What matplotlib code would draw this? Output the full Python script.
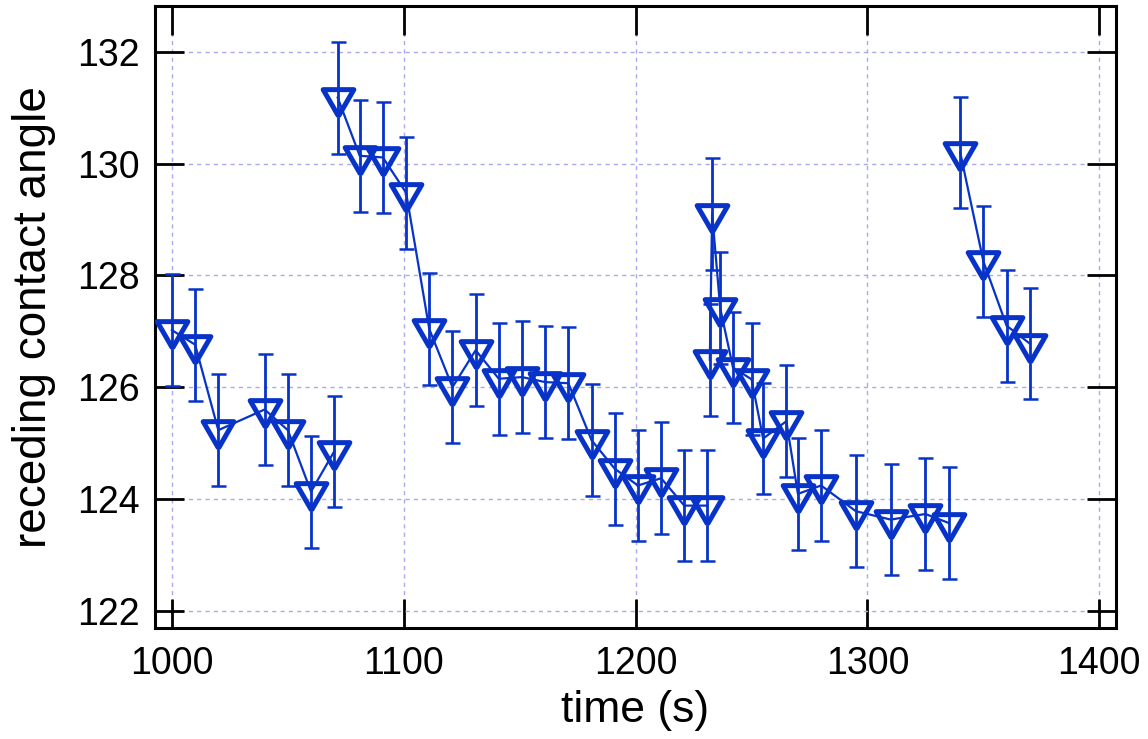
import matplotlib
matplotlib.use("Agg")
import matplotlib.pyplot as plt
import numpy as np

# ---- data ----
time_s = [1000, 1010, 1020, 1040, 1050, 1060, 1070,
          1071.5, 1081, 1091, 1101, 1111, 1121, 1131, 1141, 1151, 1161, 1171,
          1181, 1191, 1201, 1211, 1221, 1231,
          1232, 1233, 1236.5, 1242, 1250, 1255, 1265, 1270, 1280, 1295, 1310,
          1325, 1335,
          1340, 1350, 1360, 1370]
angle = [127.02, 126.76, 125.23, 125.60, 125.23, 124.13, 124.85,
         131.18, 130.14, 130.11, 129.48, 127.04, 126.00, 126.66, 126.15, 126.18,
         126.09, 126.07, 125.05, 124.54, 124.24, 124.37, 123.88, 123.88,
         126.49, 129.10, 127.41, 126.35, 126.14, 125.08, 125.39, 124.09, 124.24,
         123.78, 123.63, 123.73, 123.57,
         130.20, 128.25, 127.10, 126.78]
angle_err = [1.0] * len(angle)
run_id = [1] * 7 + [2] * 17 + [3] * 13 + [4] * 4

x_ticks = [1000, 1100, 1200, 1300, 1400]
y_ticks = [122, 124, 126, 128, 130, 132]
x_label = "time (s)"
y_label = "receding contact angle"

# ---- style ----
plt.rcParams['font.family'] = ['Liberation Sans', 'DejaVu Sans']
blue = '#0733c8'

fig = plt.figure(figsize=(11.48, 7.39), dpi=100)
ax = fig.add_axes([155 / 1148, 1 - 628 / 739, (1116 - 155) / 1148, (628 - 6) / 739])

tri = [(0, -1), (-0.866, 0.5), (0.866, 0.5), (0, -1)]

t_arr = np.array(time_s)
a_arr = np.array(angle)
e_arr = np.array(angle_err)
r_arr = np.array(run_id)
for r in sorted(set(run_id)):
    m = r_arr == r
    ax.errorbar(t_arr[m], a_arr[m], yerr=e_arr[m], fmt='none', ecolor=blue,
                elinewidth=2.0, capsize=5.4, capthick=1.8, zorder=2)
    ax.plot(t_arr[m], a_arr[m], '-', color=blue, lw=1.6, zorder=3)
    ax.plot(t_arr[m], a_arr[m], linestyle='none', marker=tri, ms=25.5,
            mfc='none', mec=blue, mew=3.6, zorder=4)

ax.set_xlim(992.7, 1407.2)
ax.set_ylim(121.69, 132.82)
ax.set_xticks(x_ticks)
ax.set_yticks(y_ticks)
ax.tick_params(axis='both', which='major', direction='in', length=21, width=2.0,
               top=True, right=True, labelsize=27, color='black')
ax.tick_params(axis='x', pad=13)
ax.tick_params(axis='y', pad=11)

ax.grid(True, color='#a9a9ef', linestyle=(0, (3, 3)), linewidth=1.0, zorder=0)
ax.set_axisbelow(True)
for s in ax.spines.values():
    s.set_linewidth(2.2)

ax.set_xlabel(x_label, fontsize=32, labelpad=6)
ax.set_ylabel(y_label, fontsize=33, labelpad=15)

fig.savefig('out.png', dpi=100)
